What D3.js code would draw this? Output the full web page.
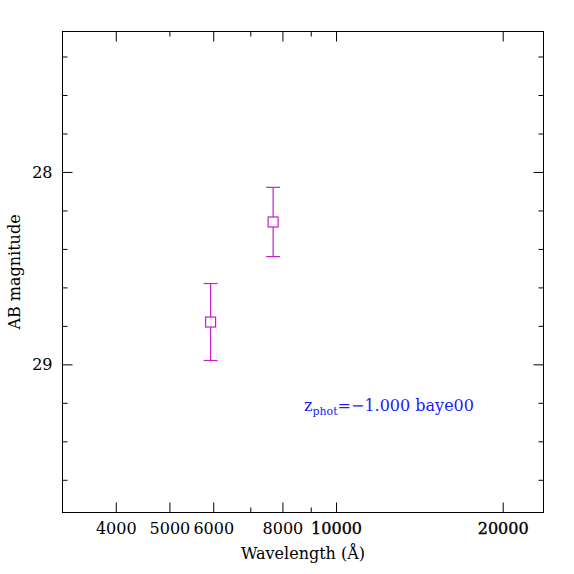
<!DOCTYPE html>
<html><head><meta charset="utf-8">
<script src="https://cdn.jsdelivr.net/npm/d3@7"></script>
<style>body{margin:0;background:#fff}</style>
</head><body>
<svg id="c" width="574" height="574"></svg>
<script>
const wavelengths = [5934, 7697];
const mags = [28.78, 28.26];
const magErrs = [0.20, 0.18];
const xMajorTicks = [4000, 5000, 6000, 8000, 10000, 20000];
const xMinorTicks = [7000, 9000];
const yMajorTicks = [28, 29];
const yMinorTicks = [27.4, 27.6, 27.8, 28.2, 28.4, 28.6, 28.8, 29.2, 29.4, 29.6];
const xDomain = [3205, 23700];
const yDomain = [27.27, 29.77];
const annotation = {z: "z", sub: "phot", rest: "=\u22121.000 baye00"};

(function () {
const L = 62.5, R = 543.5, T = 31.5, B = 512.5;
const svg = d3.select("#c");
const x = d3.scaleLog().domain(xDomain).range([L, R]);
const y = d3.scaleLinear().domain(yDomain).range([T, B]);
const font = "DejaVu Serif";
const fs = 16;
const magColor = "#c81ec8";

svg.append("rect").attr("x", L).attr("y", T).attr("width", R - L).attr("height", B - T)
  .attr("fill", "none").attr("stroke", "#000").attr("stroke-width", 1);

const gb = svg.append("g").attr("transform", `translate(0,${B})`)
  .call(d3.axisBottom(x).tickValues(xMajorTicks).tickSizeInner(-10).tickSizeOuter(0)
  .tickFormat(d3.format("d")));
gb.select(".domain").remove();
gb.selectAll("text").attr("font-family", font).attr("font-size", fs).attr("fill", "#000")
  .attr("dy", "0.71em").attr("y", 10)
  .attr("stroke", d => d >= 10000 ? "#000" : "none").attr("stroke-width", 0.35);
const gbm = svg.append("g").attr("transform", `translate(0,${B})`)
  .call(d3.axisBottom(x).tickValues(xMinorTicks).tickSizeInner(-5).tickSizeOuter(0).tickFormat(""));
gbm.select(".domain").remove();

const gt = svg.append("g").attr("transform", `translate(0,${T})`)
  .call(d3.axisTop(x).tickValues(xMajorTicks.filter(d => d !== 5000)).tickSizeInner(-10).tickSizeOuter(0).tickFormat(""));
gt.select(".domain").remove();
const gtm = svg.append("g").attr("transform", `translate(0,${T})`)
  .call(d3.axisTop(x).tickValues(xMinorTicks.concat([5000])).tickSizeInner(-5).tickSizeOuter(0).tickFormat(""));
gtm.select(".domain").remove();

const gl = svg.append("g").attr("transform", `translate(${L},0)`)
  .call(d3.axisLeft(y).tickValues(yMajorTicks).tickSizeInner(-10).tickSizeOuter(0).tickFormat(d3.format("d")));
gl.select(".domain").remove();
gl.selectAll("text").attr("font-family", font).attr("font-size", fs).attr("fill", "#000")
  .attr("x", -10);
const glm = svg.append("g").attr("transform", `translate(${L},0)`)
  .call(d3.axisLeft(y).tickValues(yMinorTicks).tickSizeInner(-5).tickSizeOuter(0).tickFormat(""));
glm.select(".domain").remove();
const gr = svg.append("g").attr("transform", `translate(${R},0)`)
  .call(d3.axisRight(y).tickValues(yMajorTicks).tickSizeInner(-10).tickSizeOuter(0).tickFormat(""));
gr.select(".domain").remove();
const grm = svg.append("g").attr("transform", `translate(${R},0)`)
  .call(d3.axisRight(y).tickValues(yMinorTicks).tickSizeInner(-5).tickSizeOuter(0).tickFormat(""));
grm.select(".domain").remove();
svg.selectAll(".tick line").attr("stroke", "#000").attr("stroke-width", 1);

svg.append("text").attr("x", (L + R) / 2).attr("y", 559).attr("text-anchor", "middle")
  .attr("font-family", font).attr("font-size", fs).text("Wavelength (\u00C5)");
svg.append("text").attr("transform", `translate(20,${(T + B) / 2}) rotate(-90)`)
  .attr("text-anchor", "middle").attr("font-family", font).attr("font-size", fs).text("AB magnitude");

const pts = wavelengths.map((w, i) => ({w, m: mags[i], e: magErrs[i]}));
const g = svg.append("g").attr("stroke", magColor).attr("fill", "none").attr("stroke-width", 1.2);
pts.forEach(p => {
  const cx = x(p.w), cy = y(p.m), y1 = y(p.m - p.e), y2 = y(p.m + p.e);
  g.append("line").attr("x1", cx).attr("x2", cx).attr("y1", y1).attr("y2", cy - 5);
  g.append("line").attr("x1", cx).attr("x2", cx).attr("y1", cy + 5).attr("y2", y2);
  g.append("line").attr("x1", cx - 7).attr("x2", cx + 7).attr("y1", y1).attr("y2", y1);
  g.append("line").attr("x1", cx - 7).attr("x2", cx + 7).attr("y1", y2).attr("y2", y2);
  g.append("rect").attr("x", cx - 5).attr("y", cy - 5).attr("width", 10).attr("height", 10);
});

const t = svg.append("text").attr("x", 304).attr("y", 411).attr("font-family", font)
  .attr("font-size", fs).attr("fill", "#1a1aff");
t.append("tspan").text(annotation.z);
t.append("tspan").attr("font-size", 11).attr("dy", 4).text(annotation.sub);
t.append("tspan").attr("dy", -4).text(annotation.rest);
})();
</script>
</body></html>
